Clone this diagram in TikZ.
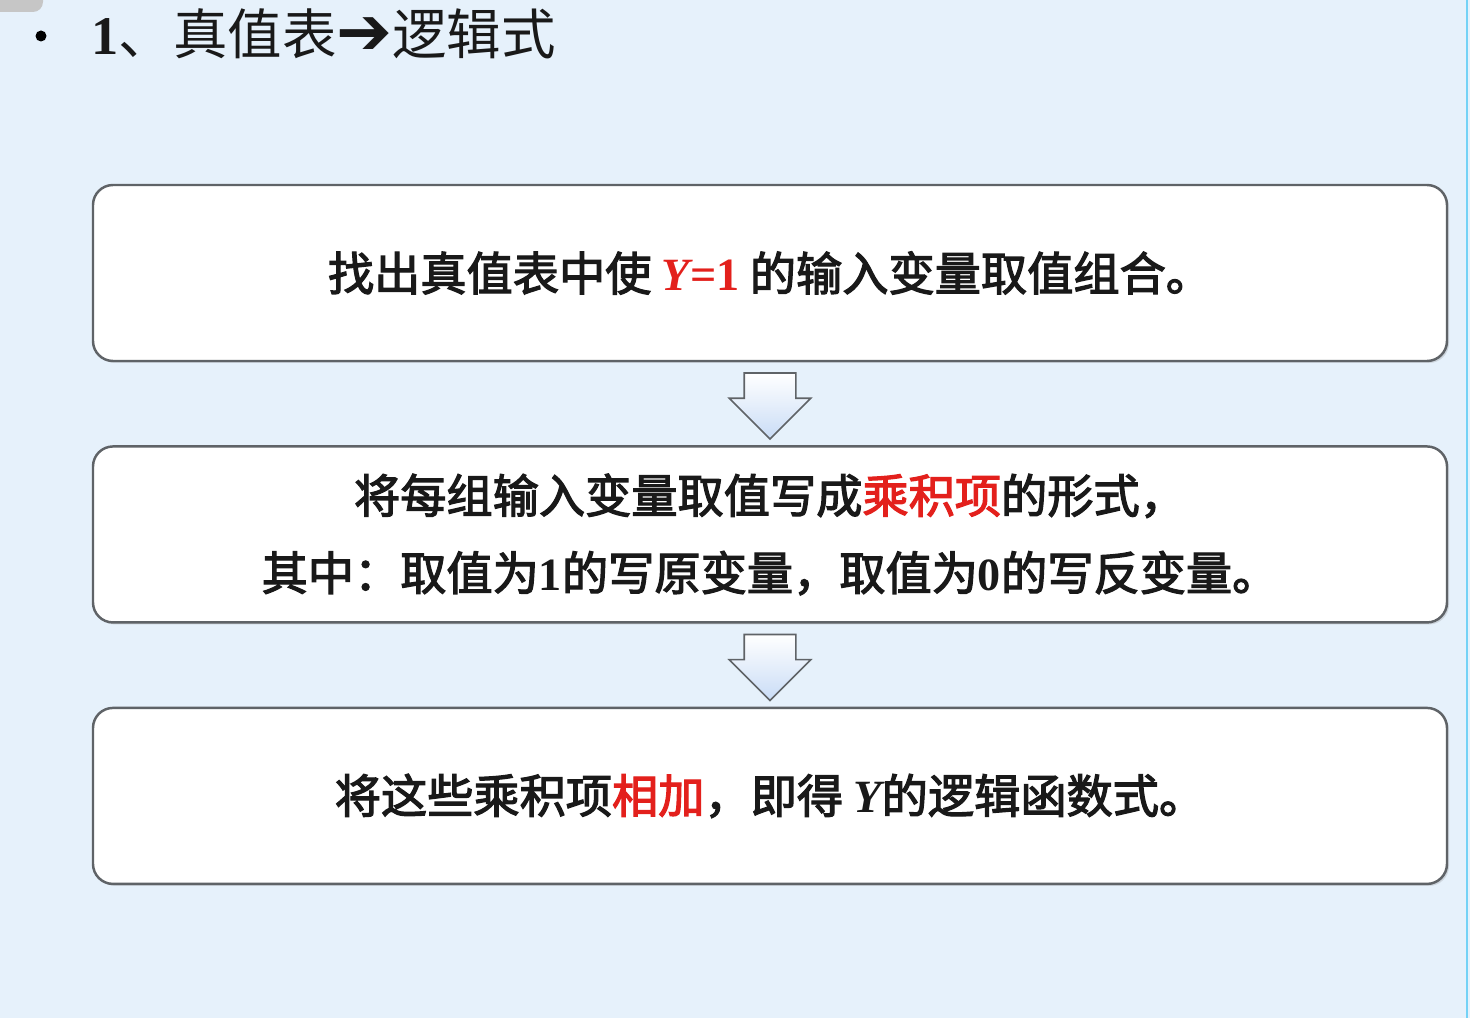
\documentclass[tikz,border=0pt]{standalone}
\usepackage{fontspec}
\setmainfont{Liberation Serif}
\newfontfamily\cjk{Noto Sans CJK SC}[FakeBold=2.6]
\newfontfamily\cjktit{Noto Sans CJK SC}
\newfontfamily\simbolo{DejaVu Sans}
\usetikzlibrary{positioning,shapes.arrows,shadows,calc}
\definecolor{fondo}{HTML}{E6F1FB}
\definecolor{rojo}{HTML}{E3201C}
\definecolor{borde}{HTML}{5F6367}
\definecolor{flecha}{HTML}{C9DCF6}
\newcommand{\lat}[1]{{\rmfamily\bfseries #1}}
\tikzset{
	paso/.style={rectangle, draw=borde, line width=1.4pt, fill=white, rounded corners=0.4cm,
		minimum width=27.08cm, minimum height=3.52cm, align=center,
		drop shadow={shadow xshift=0.04cm, shadow yshift=-0.04cm, opacity=0.25},
		font=\cjk\fontsize{26.3}{44}\selectfont, text=black!90},
	bajar/.style={single arrow, shape border rotate=270, draw=borde, line width=0.9pt,
		top color=white, bottom color=flecha, minimum height=1.32cm, inner xsep=0.5cm,
		inner ysep=0pt, single arrow head extend=0.3cm, anchor=tail}
}
\begin{document}
\begin{tikzpicture}
	
		% Fondo
		\fill[fondo] (0,0) rectangle (29.4,-20.36);
		\useasboundingbox (0,0) rectangle (29.4,-20.36);
		\fill[gray!45] (0,0) -- (0.86,0) -- (0.86,-0.04) arc (0:-90:0.2) -- (0,-0.24) -- cycle;
		\fill[cyan!55] (29.32,0) rectangle (29.36,-20.36);
		
		% Titulo
		\node[circle, fill=black, inner sep=0pt, minimum size=0.22cm] (punto) at (0.82,-0.72) {};
		\node[anchor=west, font=\cjktit\fontsize{31}{36}\selectfont, text=black!90, inner sep=0pt] (titulo) at (1.82,-0.68)
			{\lat{1}、真值表{\simbolo\bfseries\fontsize{38}{36}\selectfont ➔}逻辑式};
		
		% Pasos
		\node[paso] (paso1) at (15.4,-5.46) {找出真值表中使 \textcolor{rojo}{\lat{\itshape Y}\lat{=1}} 的输入变量取值组合。};
		\node[paso, below=1.66cm of paso1] (paso2) {将每组输入变量取值写成\textcolor{rojo}{乘积项}的形式，\\
			其中：取值为\lat{1}的写原变量，取值为\lat{0}的写反变量。};
		\node[paso, below=1.66cm of paso2] (paso3) {将这些乘积项\textcolor{rojo}{相加}，即得 \lat{\itshape Y}的逻辑函数式。};
		
		% Flechas
		\node[bajar] (flecha1) at ($(paso1.south)+(0,-0.2)$) {};
		\node[bajar] (flecha2) at ($(paso2.south)+(0,-0.2)$) {};

	\end{tikzpicture}
\end{document}
